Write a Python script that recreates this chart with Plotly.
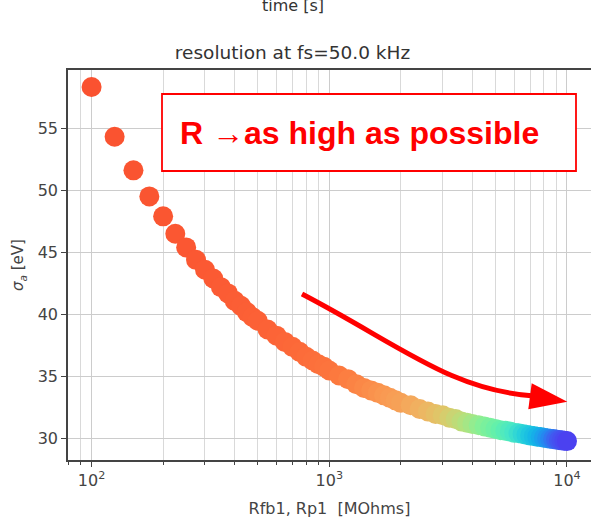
import plotly.graph_objects as go

# ---- data ----
R_MOhm = [100, 125, 150, 175, 200, 225, 250, 275, 300, 325, 350, 375, 400, 425, 450, 475, 500,
          550, 600, 650, 700, 750, 800, 850, 900, 950, 1000,
          1100, 1200, 1300, 1400, 1500, 1600, 1700, 1800, 1900, 2000,
          2200, 2400, 2600, 2800, 3000, 3200, 3400, 3600, 3800, 4000,
          4250, 4500, 4750, 5000, 5250, 5500, 5750, 6000, 6250, 6500, 6750, 7000,
          7250, 7500, 7750, 8000, 8250, 8500, 8750, 9000, 9250, 9500, 9750, 10000]
sigma_eV = [58.3, 54.3, 51.6, 49.5, 47.9, 46.5, 45.4, 44.4, 43.6, 42.9, 42.2, 41.7, 41.1, 40.7, 40.2, 39.8, 39.5,
            38.8, 38.3, 37.8, 37.4, 37.0, 36.6, 36.3, 36.0, 35.8, 35.5,
            35.1, 34.8, 34.4, 34.1, 33.9, 33.7, 33.5, 33.3, 33.1, 32.9,
            32.7, 32.4, 32.2, 32.0, 31.9, 31.7, 31.6, 31.4, 31.3, 31.2,
            31.1, 31.0, 30.9, 30.8, 30.7, 30.65, 30.6, 30.5, 30.45, 30.4, 30.33, 30.28,
            30.23, 30.18, 30.14, 30.09, 30.05, 30.01, 29.98, 29.94, 29.91, 29.88, 29.85, 29.82]

x_tick_vals = [100, 1000, 10000]
x_tick_text = ["10<sup>2</sup>", "10<sup>3</sup>", "10<sup>4</sup>"]
x_minor_vals = [80, 90, 200, 300, 400, 500, 600, 700, 800, 900,
                2000, 3000, 4000, 5000, 6000, 7000, 8000, 9000]
y_tick_vals = [30, 35, 40, 45, 50, 55]

title_text = "resolution at fs=50.0 kHz"
top_text = "time [s]"
x_label = "Rfb1, Rp1 \u00a0[MOhms]"
y_label = "<i>σ</i><sub><i>a</i></sub> [eV]"
note_text = "R →as high as possible"

colorscale = [
    [0.00, "rgb(250,82,48)"],
    [0.05, "rgb(252,100,55)"],
    [0.10, "rgb(252,120,62)"],
    [0.16, "rgb(250,150,80)"],
    [0.23, "rgb(242,175,96)"],
    [0.30, "rgb(222,200,105)"],
    [0.37, "rgb(180,225,125)"],
    [0.44, "rgb(135,240,150)"],
    [0.52, "rgb(100,240,170)"],
    [0.60, "rgb(70,230,200)"],
    [0.68, "rgb(35,205,220)"],
    [0.76, "rgb(20,180,232)"],
    [0.84, "rgb(35,140,240)"],
    [0.92, "rgb(65,90,240)"],
    [1.00, "rgb(75,65,240)"],
]

# ---- layout geometry (pixels) ----
W, H = 591, 518
ML, MR, MT, MB = 68, 0, 70, 58
PW = W - ML - MR
PH = H - MT - MB


def px(x):
    return (x - ML) / PW


def py(y):
    return (H - MB - y) / PH


fig = go.Figure()
fig.add_trace(go.Scatter(
    x=R_MOhm, y=sigma_eV, mode="markers",
    marker=dict(size=20, color=R_MOhm, colorscale=colorscale, cmin=100, cmax=10000,
                line=dict(width=0), opacity=1),
    showlegend=False, hoverinfo="skip",
))

font_family = "DejaVu Sans"
axis_color = "#444444"

fig.update_layout(
    width=W, height=H,
    margin=dict(l=ML, r=MR, t=MT, b=MB, pad=0),
    paper_bgcolor="white", plot_bgcolor="white",
    font=dict(family=font_family, size=16, color="#444444"),
    title=dict(text=title_text, x=292.5 / W, xanchor="center", xref="container",
               y=1 - 53 / H, yref="container", yanchor="middle",
               font=dict(size=18.5, color="#333333", family=font_family)),
    xaxis=dict(
        type="log", range=[1.9008, 4.101],
        tickvals=x_tick_vals, ticktext=x_tick_text,
        ticks="outside", ticklen=5, tickwidth=1.3, tickcolor=axis_color,
        showline=True, linecolor=axis_color, linewidth=1.6, mirror=True,
        showgrid=True, gridcolor="#cccccc", gridwidth=1,
        zeroline=False,
        tickfont=dict(size=16, color="#444444"),
        title=dict(text=x_label, font=dict(size=16, color="#444444"), standoff=15),
        minor=dict(tickvals=x_minor_vals, ticks="outside", ticklen=3, tickwidth=1,
                   tickcolor=axis_color, showgrid=True, gridcolor="#d9d9d9", gridwidth=1),
    ),
    yaxis=dict(
        range=[28.3, 59.67],
        tickvals=y_tick_vals,
        ticks="outside", ticklen=5, tickwidth=1.3, tickcolor=axis_color,
        showline=True, linecolor=axis_color, linewidth=1.6, mirror=False,
        showgrid=True, gridcolor="#cccccc", gridwidth=1,
        zeroline=False,
        tickfont=dict(size=16, color="#444444"),
        title=dict(text=y_label, font=dict(size=15, color="#444444"), standoff=10),
    ),
)

# annotation box with text
fig.add_shape(type="rect", xref="paper", yref="paper",
              x0=px(162), x1=px(576), y0=py(171), y1=py(94),
              line=dict(color="#ff0000", width=1.8), fillcolor="white", layer="above")
fig.add_annotation(text="<b>" + note_text + "</b>", xref="paper", yref="paper",
                   x=px(359), y=py(133), xanchor="center", yanchor="middle",
                   showarrow=False,
                   font=dict(family="Liberation Sans, Arial", size=32, color="#ff0000"))

# curved red arrow
p0, p1, p2, p3 = (302, 294), (400, 345), (450, 390), (534, 396)
path = "M {} {} C {} {}, {} {}, {} {}".format(
    px(p0[0]), py(p0[1]), px(p1[0]), py(p1[1]), px(p2[0]), py(p2[1]), px(p3[0]), py(p3[1]))
fig.add_shape(type="path", xref="paper", yref="paper", path=path,
              line=dict(color="#ff0000", width=5), layer="above")
head = "M {} {} L {} {} L {} {} Z".format(px(531.7), py(383.3), px(528.3), py(409.3),
                                        px(567.3), py(401.7))
fig.add_shape(type="path", xref="paper", yref="paper", path=head,
              line=dict(color="#ff0000", width=0), fillcolor="#ff0000", layer="above")

# partially visible text at top (cut by the top edge, as in the reference)
fig.add_annotation(text=top_text, xref="paper", yref="paper",
                   x=px(293), y=py(6), xanchor="center", yanchor="middle",
                   showarrow=False, font=dict(size=16, color="#333333", family=font_family))

fig.write_html("out.html")
